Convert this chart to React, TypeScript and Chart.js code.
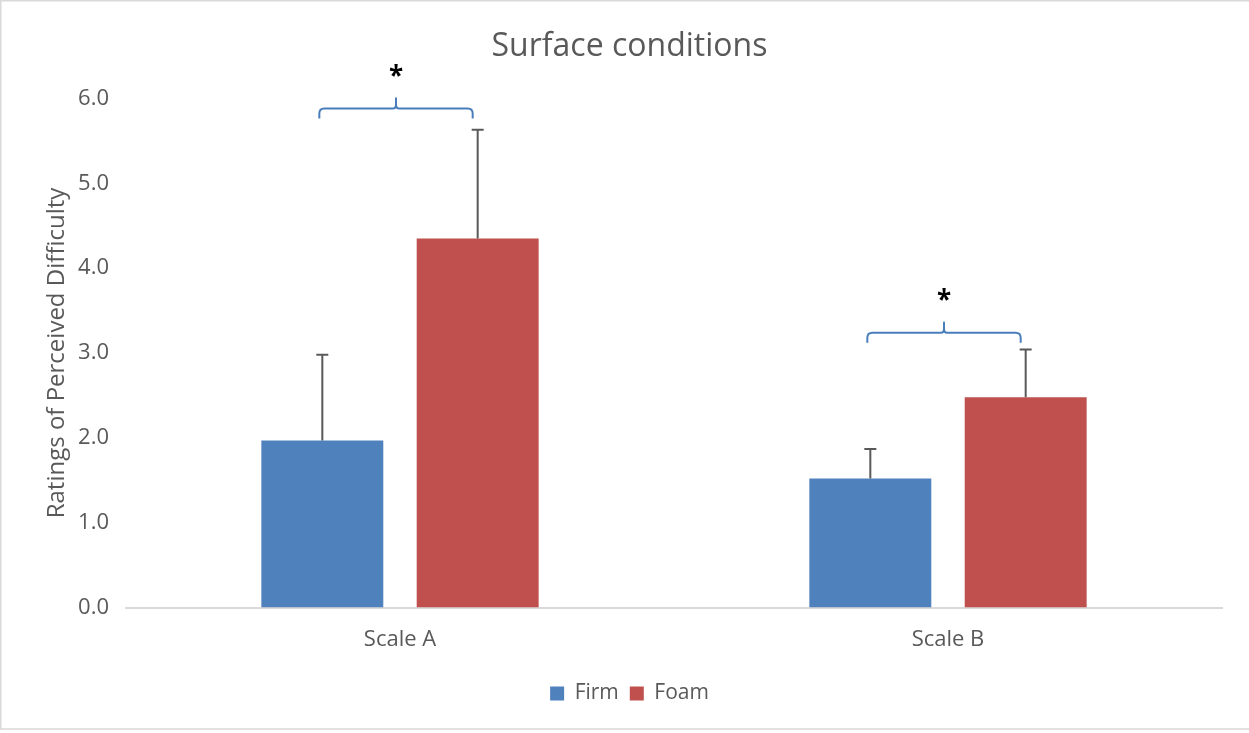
import React, { useEffect, useRef } from "react";
import { Chart, registerables } from "chart.js";

Chart.register(...registerables);

const categories = ["Scale A", "Scale B"];
const firmValues = [1.97, 1.52];
const foamValues = [4.35, 2.48];
const firmErrors = [1.01, 0.35];
const foamErrors = [1.28, 0.56];
const bracketLevels = [5.88, 3.24];
const bracketLabels = ["*", "*"];
const yTicks = [0, 1, 2, 3, 4, 5, 6];

const FONT = "'Open Sans', 'Noto Sans', sans-serif";
const GREY = "#595959";

const errorBarPlugin = {
  id: "errorBars",
  afterDatasetsDraw(chart: any) {
    const ctx = chart.ctx;
    const y = chart.scales.y;
    const errs = [firmErrors, foamErrors];
    ctx.save();
    ctx.strokeStyle = GREY;
    ctx.lineWidth = 2;
    chart.data.datasets.forEach((ds: any, di: number) => {
      const meta = chart.getDatasetMeta(di);
      meta.data.forEach((bar: any, i: number) => {
        const v = ds.data[i];
        const top = y.getPixelForValue(v + errs[di][i]);
        const base = y.getPixelForValue(v);
        ctx.beginPath();
        ctx.moveTo(bar.x, base);
        ctx.lineTo(bar.x, top);
        ctx.moveTo(bar.x - 6, top);
        ctx.lineTo(bar.x + 6, top);
        ctx.stroke();
      });
    });
    ctx.restore();
  },
};

const bracketPlugin = {
  id: "brackets",
  afterDatasetsDraw(chart: any) {
    const ctx = chart.ctx;
    const y = chart.scales.y;
    const m0 = chart.getDatasetMeta(0);
    const m1 = chart.getDatasetMeta(1);
    ctx.save();
    bracketLevels.forEach((lvl, i) => {
      const x1 = m0.data[i].x - 3;
      const x2 = m1.data[i].x - 5;
      const yy = y.getPixelForValue(lvl);
      const xm = (x1 + x2) / 2;
      const r = 5;
      ctx.strokeStyle = "#4a7ebb";
      ctx.lineWidth = 2;
      ctx.beginPath();
      ctx.moveTo(x1, yy + 10);
      ctx.lineTo(x1, yy + r);
      ctx.quadraticCurveTo(x1, yy, x1 + r, yy);
      ctx.lineTo(xm - 3, yy);
      ctx.quadraticCurveTo(xm, yy, xm, yy - 4);
      ctx.lineTo(xm, yy - 11);
      ctx.moveTo(xm, yy - 4);
      ctx.quadraticCurveTo(xm, yy, xm + 3, yy);
      ctx.lineTo(x2 - r, yy);
      ctx.quadraticCurveTo(x2, yy, x2, yy + r);
      ctx.lineTo(x2, yy + 10);
      ctx.stroke();
      ctx.fillStyle = "#000000";
      ctx.font = `bold 26px ${FONT}`;
      ctx.textAlign = "center";
      ctx.textBaseline = "middle";
      ctx.fillText(bracketLabels[i], xm, yy - 31);
    });
    ctx.restore();
  },
};

const borderPlugin = {
  id: "frame",
  afterDraw(chart: any) {
    const ctx = chart.ctx;
    ctx.save();
    ctx.strokeStyle = "#d9d9d9";
    ctx.lineWidth = 1.5;
    ctx.beginPath();
    ctx.moveTo(chart.width + 2, 0.75);
    ctx.lineTo(0.75, 0.75);
    ctx.lineTo(0.75, 729);
    ctx.lineTo(chart.width + 2, 729);
    ctx.stroke();
    ctx.restore();
  },
};

export default function App() {
  const ref = useRef<HTMLCanvasElement>(null);
  useEffect(() => {
    document.body.style.margin = "0";
    const chart = new Chart(ref.current!, {
      type: "bar",
      data: {
        labels: categories,
        datasets: [
          { label: "Firm", data: firmValues, backgroundColor: "#4F81BD" },
          { label: "Foam", data: foamValues, backgroundColor: "#C0504D" },
        ],
      },
      options: {
        responsive: false,
        animation: false,
        devicePixelRatio: 1,
        layout: { padding: { left: 10, right: 0, top: 0, bottom: 19 } },
        datasets: { bar: { categoryPercentage: 0.567, barPercentage: 0.785 } },
        plugins: {
          title: {
            display: true,
            text: "Surface conditions",
            color: GREY,
            font: { family: FONT, size: 32, weight: "normal" },
            padding: { top: 28, bottom: 32 },
          },
          legend: {
            position: "bottom",
            labels: {
              color: GREY,
              font: { family: FONT, size: 21 },
              boxWidth: 14,
              boxHeight: 14,
              padding: 11,
            },
          },
          tooltip: { enabled: false },
        },
        scales: {
          x: {
            grid: { display: false, drawTicks: false },
            border: { color: "#d9d9d9", width: 2 },
            ticks: { color: GREY, font: { family: FONT, size: 22 }, padding: 19 },
          },
          y: {
            min: 0,
            max: 6,
            afterBuildTicks: (s: any) => {
              s.ticks = yTicks.map((v) => ({ value: v }));
            },
            grid: { display: false, drawTicks: false },
            border: { display: false },
            ticks: {
              color: GREY,
              font: { family: FONT, size: 22 },
              padding: 17,
              callback: (v: any) => Number(v).toFixed(1),
            },
            title: {
              display: true,
              text: "Ratings of Perceived Difficulty",
              color: GREY,
              font: { family: FONT, size: 24 },
              padding: { top: 33, bottom: 0 },
            },
            afterFit: (s: any) => {
              s.width = 116;
            },
          },
          yRight: {
            position: "right",
            display: true,
            grid: { display: false, drawTicks: false },
            border: { display: false },
            ticks: { display: false },
            afterFit: (s: any) => {
              s.width = 27;
            },
          },
        },
      },
      plugins: [errorBarPlugin, bracketPlugin, borderPlugin],
    });
    return () => chart.destroy();
  }, []);
  return <canvas ref={ref} width={1249} height={733} style={{ display: "block" }} />;
}
